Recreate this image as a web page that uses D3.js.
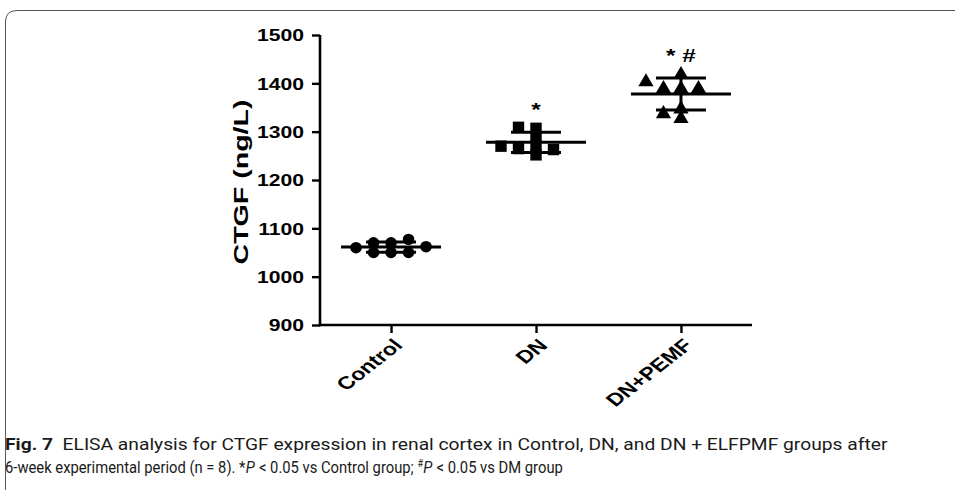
<!DOCTYPE html>
<html><head><meta charset="utf-8">
<script src="https://cdn.jsdelivr.net/npm/d3@7"></script>
<style>
html,body{margin:0;padding:0;background:#fff;}
svg{display:block;}
</style></head>
<body>
<svg id="chart" width="955" height="490"></svg>
<script>
// ---- data ----
const categories = ["Control", "DN", "DN+PEMF"];
const controlValues = [1050, 1050, 1050, 1060, 1062, 1070, 1070, 1077];
const dnValues = [1252, 1270, 1265, 1263, 1270, 1288, 1307, 1309];
const pemfValues = [1392, 1392, 1392, 1330, 1350, 1340, 1406, 1421];
const yTicks = [900, 1000, 1100, 1200, 1300, 1400, 1500];
const sigLabels = ["", "*", "* #"];
const yLabel = "CTGF (ng/L)";
const captionLine1 = [
  {t: "Fig. 7", bold: true},
  {t: "  ELISA analysis for CTGF expression in renal cortex in Control, DN, and DN + ELFPMF groups after"}
];
const captionLine2 = [
  {t: "6-week experimental period (n = 8). *"},
  {t: "P", italic: true},
  {t: " < 0.05 vs Control group; "},
  {t: "#", sup: true},
  {t: "P", italic: true},
  {t: " < 0.05 vs DM group"}
];

const groups = [controlValues, dnValues, pemfValues];
const shapes = [d3.symbolCircle, d3.symbolSquare, d3.symbolTriangle];
const shapeSizes = [105, 130, 100];
const FONT = "'Liberation Sans', Arial, sans-serif";
const SX = 1.28; // horizontal stretch of the original figure

const svg = d3.select("#chart");

// frame
svg.append("path")
  .attr("d", "M5.5,490 L5.5,22 Q5.5,10.5 17,10.5 L955,10.5")
  .attr("fill", "none").attr("stroke", "#555").attr("stroke-width", 1);

const x = d3.scalePoint().domain(categories).range([320, 752]).padding(0.49);
const y = d3.scaleLinear().domain([900, 1500]).range([325, 35]);

// axes
const yAxis = d3.axisLeft(y).tickValues(yTicks).tickFormat(d3.format("d"))
  .tickSize(8).tickPadding(8).tickSizeOuter(0);
const gy = svg.append("g").attr("transform", "translate(320,0)").call(yAxis);
gy.select(".domain").attr("stroke", "#000").attr("stroke-width", 2.6).attr("d", `M0,${y(900)+1.3}V${y(1500)}`);
gy.selectAll(".tick line").attr("stroke", "#000").attr("stroke-width", 2.4);
gy.selectAll(".tick text").attr("fill", "#000").attr("font-family", FONT)
  .attr("font-weight", "bold").attr("font-size", 16.5).attr("dy", "0.36em")
  .each(function() {
    const w = this.getComputedTextLength();
    d3.select(this).attr("textLength", w * SX).attr("lengthAdjust", "spacingAndGlyphs");
  });

const xAxis = d3.axisBottom(x).tickSize(8).tickSizeOuter(0).tickFormat("");
const gx = svg.append("g").attr("transform", `translate(0,${y(900)})`).call(xAxis);
gx.select(".domain").attr("stroke", "#000").attr("stroke-width", 2.6).attr("d", `M${320-1.3},0H752`);
gx.selectAll(".tick line").attr("stroke", "#000").attr("stroke-width", 2.4);

// rotated category labels
svg.append("g").selectAll("text").data(categories).join("text")
  .attr("transform", d => `translate(${x(d)+7},${y(900)+17}) scale(${SX},1) rotate(-45)`)
  .attr("text-anchor", "end")
  .attr("dy", "0.35em")
  .attr("font-family", FONT)
  .attr("font-weight", "bold").attr("font-size", 18)
  .text(d => d);

// y label
svg.append("text")
  .attr("transform", `translate(248,${y(1200) + 2}) scale(1.12,1) rotate(-90)`)
  .attr("text-anchor", "middle")
  .attr("font-family", FONT)
  .attr("font-weight", "bold").attr("font-size", 18)
  .attr("textLength", 165).attr("lengthAdjust", "spacingAndGlyphs")
  .text(yLabel);

// swarm layout (greedy dodge)
const step = 17.5;
function layout(vals) {
  const placed = [];
  const cands = [0, -1, 1, -2, 2, -3, 3];
  vals.forEach(v => {
    const py = y(v);
    for (const c of cands) {
      const px = c * step;
      const hit = placed.some(p => Math.abs(p.dx - px) < 12 && Math.abs(p.py - py) < 8);
      if (!hit) { placed.push({v, dx: px, py}); break; }
    }
  });
  return placed;
}

groups.forEach((vals, gi) => {
  const cx = x(categories[gi]);
  const pts = layout(vals);
  const sym = d3.symbol().type(shapes[gi]).size(shapeSizes[gi]);
  svg.append("g").selectAll("path").data(pts).join("path")
    .attr("d", sym)
    .attr("transform", p => `translate(${cx + p.dx},${p.py + (gi===2 ? 1.5 : 0)})`)
    .attr("fill", "#000");
  const mean = d3.mean(vals), sd = d3.deviation(vals);
  const g = svg.append("g").attr("stroke", "#000").attr("stroke-width", 3).attr("fill", "none");
  g.append("line").attr("x1", cx - 50).attr("x2", cx + 50).attr("y1", y(mean)).attr("y2", y(mean));
  g.append("line").attr("x1", cx).attr("x2", cx).attr("y1", y(mean + sd)).attr("y2", y(mean - sd));
  [mean + sd, mean - sd].forEach(v =>
    g.append("line").attr("x1", cx - 25).attr("x2", cx + 25).attr("y1", y(v)).attr("y2", y(v)));
  if (sigLabels[gi]) {
    svg.append("text")
      .attr("transform", `translate(${cx},${y(d3.max(vals)) - 11}) scale(${SX},1)`)
      .attr("text-anchor", "middle")
      .attr("font-family", FONT)
      .attr("font-weight", "bold").attr("font-size", 19)
      .text(sigLabels[gi]);
  }
});

// caption: segments placed side by side, then the line squeezed to its width
const CAPFONT = "Roboto, 'Open Sans', sans-serif";
function captionLine(parts, baseline, targetWidth) {
  const g = svg.append("g");
  let cx = 0;
  parts.forEach(p => {
    const t = g.append("text")
      .attr("x", cx).attr("y", p.sup ? -6 : 0)
      .attr("font-family", CAPFONT)
      .attr("font-size", p.sup ? 10 : 16)
      .attr("font-weight", p.bold ? "bold" : null)
      .attr("font-style", p.italic ? "italic" : null)
      .attr("fill", "#1a1a1a")
      .style("white-space", "pre")
      .text(p.t);
    cx += t.node().getComputedTextLength() + (p.italic ? 0.5 : 0);
  });
  const s = targetWidth / cx;
  g.attr("transform", `translate(5,${baseline}) scale(${s},1)`);
}
captionLine(captionLine1, 450, 883);
captionLine(captionLine2, 473, 558);
</script>
</body></html>
